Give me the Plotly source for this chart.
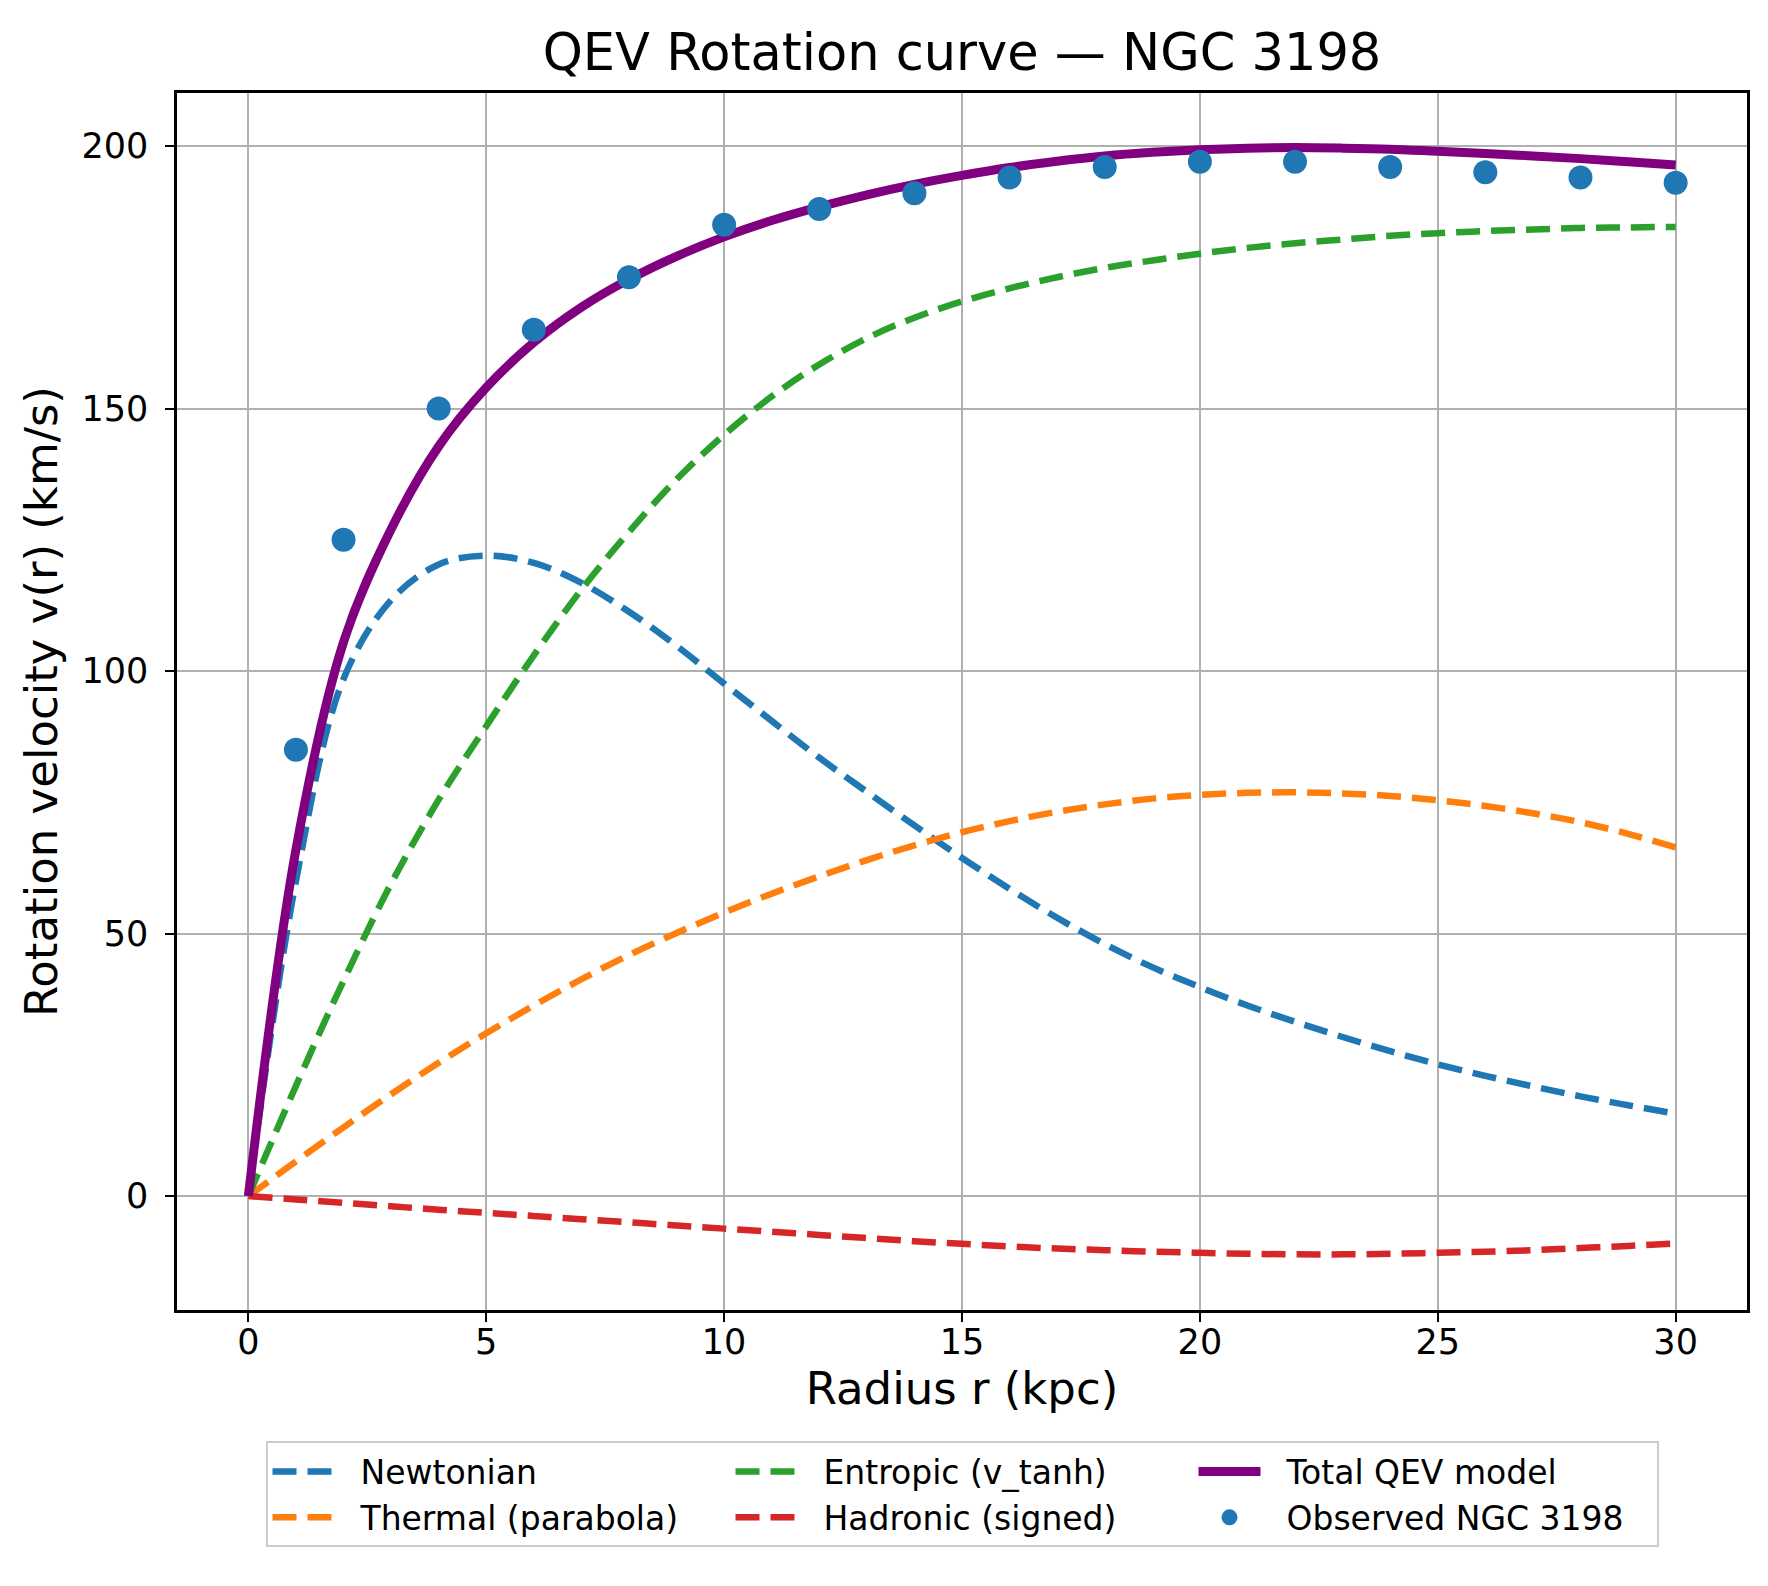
import plotly.graph_objects as go

# radius grid for the model curves (kpc)
r_model = list(range(0, 31))

v_newton = [0, 60, 98.5, 113.5, 120.3, 122.0, 120.6, 116.8, 111.3, 104.8,
            97.6, 90.5, 83.5, 77.0, 70.6, 64.4, 58.5, 53.0, 48.0, 43.6,
            39.8, 36.3, 33.2, 30.3, 27.6, 25.1, 22.9, 20.9, 19.0, 17.3, 15.7]

v_thermal = [0, 6.6, 13.1, 19.4, 25.4, 31.0, 36.3, 41.3, 45.9, 50.1,
             54.0, 57.6, 60.9, 64.0, 66.8, 69.3, 71.4, 73.2, 74.6, 75.7,
             76.4, 76.8, 76.9, 76.7, 76.2, 75.4, 74.3, 72.9, 71.2, 69.0, 66.4]

v_entropic = [0, 21, 41, 59.5, 75.5, 89.5, 103, 115.5, 126.5, 136.5,
              145, 152.3, 158.4, 163.4, 167.3, 170.4, 172.9, 175.0, 176.8, 178.2,
              179.5, 180.6, 181.5, 182.2, 182.9, 183.4, 183.8, 184.1, 184.4, 184.5, 184.6]

v_hadronic = [0, -0.65, -1.3, -1.95, -2.6, -3.2, -3.8, -4.4, -5.0, -5.6,
              -6.2, -6.8, -7.4, -8.0, -8.6, -9.1, -9.6, -10.0, -10.3, -10.6,
              -10.8, -11.0, -11.1, -11.1, -11.0, -10.8, -10.6, -10.3, -9.9, -9.5, -9.0]

v_total = [0, 66, 105.5, 127.0, 142.8, 154.0, 162.6, 169.3, 174.6, 179.0,
           182.7, 185.8, 188.4, 190.7, 192.7, 194.4, 195.9, 197.1, 198.1, 198.8,
           199.3, 199.6, 199.7, 199.6, 199.4, 199.0, 198.6, 198.1, 197.6, 197.0, 196.4]

# observed rotation curve NGC 3198
r_obs = [1, 2, 4, 6, 8, 10, 12, 14, 16, 18, 20, 22, 24, 26, 28, 30]
v_obs = [85, 125, 150, 165, 175, 185, 188, 191, 194, 196, 197, 197, 196, 195, 194, 193]

FONT = "DejaVu Sans"
dash = "24px,11px"
dw = 6.5
pad = "\u00a0\u00a0"  # gap between legend sample and label, like matplotlib


fig = go.Figure()
fig.add_trace(go.Scatter(x=r_model, y=v_newton, mode="lines", name=pad + "Newtonian",
                         line=dict(color="#1f77b4", width=dw, dash=dash, shape="spline"),
                         legendrank=1))
fig.add_trace(go.Scatter(x=r_model, y=v_thermal, mode="lines", name=pad + "Thermal (parabola)",
                         line=dict(color="#ff7f0e", width=dw, dash=dash, shape="spline"),
                         legendrank=4))
fig.add_trace(go.Scatter(x=r_model, y=v_entropic, mode="lines", name=pad + "Entropic (v_tanh)",
                         line=dict(color="#2ca02c", width=dw, dash=dash, shape="spline"),
                         legendrank=2))
fig.add_trace(go.Scatter(x=r_model, y=v_hadronic, mode="lines", name=pad + "Hadronic (signed)",
                         line=dict(color="#d62728", width=dw, dash=dash, shape="spline"),
                         legendrank=5))
fig.add_trace(go.Scatter(x=r_model, y=v_total, mode="lines", name=pad + "Total QEV model",
                         line=dict(color="#800080", width=9, shape="spline"),
                         legendrank=3))
fig.add_trace(go.Scatter(x=r_obs, y=v_obs, mode="markers", name=pad + "Observed NGC 3198",
                         marker=dict(color="#1f77b4", size=24),
                         legendrank=6))

axis_common = dict(
    showgrid=True, gridcolor="#b0b0b0", gridwidth=1.6,
    zeroline=False,
    showline=True, mirror=True, linecolor="black", linewidth=2.5,
    ticks="outside", ticklen=9, tickwidth=2, tickcolor="black",
    tickfont=dict(family=FONT, size=35, color="black"),
)

fig.update_xaxes(range=[-1.5, 31.5], tick0=0, dtick=5,
                 title=dict(text="Radius r (kpc)", font=dict(family=FONT, size=45, color="black"),
                            standoff=0),
                 ticklabelstandoff=-10,
                 **axis_common)
fig.update_yaxes(range=[-21.7, 210.1], tick0=0, dtick=50,
                 title=dict(text="Rotation velocity v(r) (km/s)",
                            font=dict(family=FONT, size=45, color="black"), standoff=10),
                 ticklabelstandoff=10,
                 **axis_common)

fig.update_layout(
    width=1768, height=1586,
    margin=dict(l=169, r=29, t=85, b=284),
    plot_bgcolor="white", paper_bgcolor="white",
    font=dict(family=FONT, color="black"),
    title=dict(text="QEV Rotation curve — NGC 3198", x=0.5396, xanchor="center",
               y=0.972, yanchor="middle", yref="container",
               font=dict(family=FONT, size=51, color="black")),
    legend=dict(orientation="h", x=0.5, xanchor="center", y=-0.108, yanchor="top",
                font=dict(family=FONT, size=33, color="black"),
                bordercolor="#cccccc", borderwidth=2, bgcolor="white",
                entrywidth=386, itemwidth=62, traceorder="normal"),
)

fig.write_html("out.html")
